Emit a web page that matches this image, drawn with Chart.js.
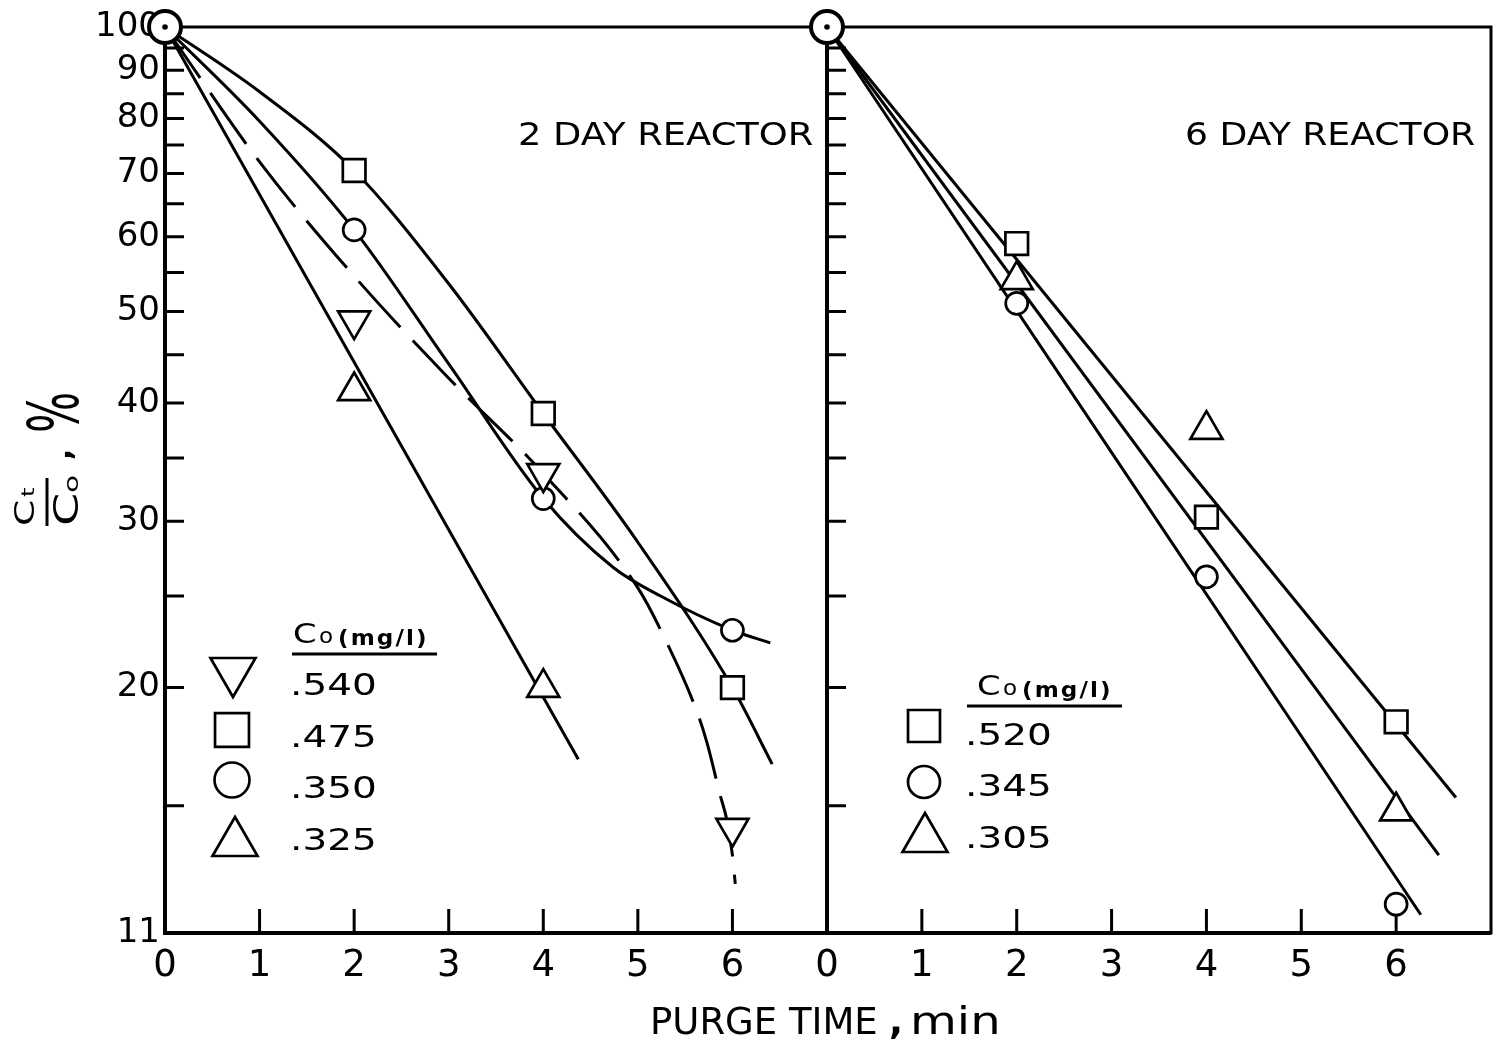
<!DOCTYPE html>
<html>
<head>
<meta charset="utf-8">
<script src="https://cdn.jsdelivr.net/npm/chart.js@4.4.0/dist/chart.umd.min.js"></script>
<style>
  html, body { margin: 0; padding: 0; background: #fff; overflow: hidden; }
  #wrap { position: relative; width: 1494px; height: 1046px; overflow: hidden; }
  #wrap canvas { position: absolute; left: 0; top: 0; }
</style>
</head>
<body>
<div id="wrap">
  <canvas id="left" width="1494" height="1046"></canvas>
  <canvas id="right" width="1560" height="1046"></canvas>
</div>
<script>
const FONT = '"DejaVu Sans"';

// axes
const yMin = 11, yMax = 100;
const yTickVals = [11, 15, 20, 25, 30, 35, 40, 45, 50, 55, 60, 65, 70, 75, 80, 85, 90, 95, 100];
const yTickLabels = [11, 20, 30, 40, 50, 60, 70, 80, 90, 100];
const xTickVals = [0, 1, 2, 3, 4, 5, 6, 7];

// purge times of the samples (min); every run starts at 100 % at t = 0
const sampleTimes = [2, 4, 6];

// 2 day reactor, Ct/Co in %
const day2Co = [".540", ".475", ".350", ".325"];
const day2_540 = [48.9, 33.7, 14.2];
const day2_475 = [70.5, 39, 20];
const day2_350 = [61, 31.7, 23];
const day2_325 = [41.2, 20];

// hand fitted curves of the 2 day reactor
const fit2_540_t = [0, 1, 2, 3, 4, 5, 5.27, 5.63, 5.73, 5.87, 5.94, 6.0, 6.03];
const fit2_540 = [100, 72, 54.5, 42.5, 33.7, 25.5, 22.7, 18.8, 17.5, 15.4, 14.5, 13.3, 12.4];
const fit2_475_t = [0, 1, 2, 3, 4, 5, 6, 6.42];
const fit2_475 = [100, 85.4, 70.5, 53.5, 39, 28.5, 20, 16.6];
const fit2_350_t = [0, 1, 2, 3, 4, 4.74, 5.24, 6, 6.4];
const fit2_350 = [100, 79.5, 61, 44, 31.7, 26.8, 25, 23, 22.3];
const fit2_325_t = [0, 4.37];
const fit2_325 = [100, 16.8];

// 6 day reactor, Ct/Co in %
const day6Co = [".520", ".345", ".305"];
const day6_520 = [59, 30.3, 18.4];
const day6_345 = [51, 26.2, 11.8];
const day6_305 = [54, 37.5, 14.8];

// straight fits of the 6 day reactor
const fit6_520_t = [0, 6.63];
const fit6_520 = [100, 15.3];
const fit6_345_t = [0, 6.26];
const fit6_345 = [100, 11.5];
const fit6_305_t = [0, 6.45];
const fit6_305 = [100, 13.3];

const pts = (xs, ys) => ys.map((v, i) => ({ x: xs[i], y: v }));

function markerSet(ys, style, radius, rotation) {
  return {
    data: pts(sampleTimes, ys), showLine: false, order: 0, clip: false,
    pointStyle: style, pointRadius: radius, pointRotation: rotation || 0,
    pointBorderWidth: 2.7, pointBorderColor: '#000', pointBackgroundColor: '#fff'
  };
}
function fitSet(xs, ys, dash) {
  return {
    data: pts(xs, ys), showLine: true, order: 1, clip: false, pointRadius: 0,
    borderColor: '#000', borderWidth: 3, borderDash: dash || [],
    cubicInterpolationMode: 'monotone', fill: false
  };
}
function originSets() {
  return [
    { data: [{ x: 0, y: 100 }], order: -1, clip: false, pointStyle: 'circle', pointRadius: 2.8,
      pointBorderWidth: 0, pointBackgroundColor: '#000' },
    { data: [{ x: 0, y: 100 }], order: 0, clip: false, pointStyle: 'circle', pointRadius: 16,
      pointBorderWidth: 4, pointBorderColor: '#000', pointBackgroundColor: '#fff' }
  ];
}

function options(showY, padding, yWidth) {
  return {
    responsive: false, animation: false, devicePixelRatio: 1, events: [],
    layout: { padding: padding },
    plugins: { legend: { display: false }, tooltip: { enabled: false } },
    scales: {
      x: {
        type: 'linear', min: 0, max: 7,
        afterBuildTicks: s => { s.ticks = xTickVals.map(v => ({ value: v })); },
        afterFit: s => { s.height = 113; },
        grid: { display: false, drawTicks: false }, border: { display: false },
        ticks: { autoSkip: false, maxRotation: 0, padding: 11, color: '#000',
          font: { family: FONT, size: 37 }, callback: v => (v === 7 ? '' : String(v)) }
      },
      y: {
        type: 'logarithmic', min: yMin, max: yMax, display: showY,
        afterBuildTicks: s => { s.ticks = yTickVals.map(v => ({ value: v })); },
        afterFit: s => { s.width = yWidth; },
        grid: { display: false, drawTicks: false }, border: { display: false },
        ticks: { autoSkip: false, padding: 5, color: '#000',
          font: { family: FONT, size: 34 }, callback: v => (yTickLabels.includes(v) ? String(v) : '') }
      }
    }
  };
}

// frame and inward tick marks
function drawFrame(chart) {
  const { ctx, chartArea: a, scales: { x, y } } = chart;
  ctx.save();
  ctx.strokeStyle = '#000';
  ctx.lineWidth = 3;
  ctx.strokeRect(a.left, a.top, a.right - a.left, a.bottom - a.top);
  ctx.lineWidth = 4;
  ctx.beginPath();
  ctx.moveTo(a.left, a.top);
  ctx.lineTo(a.left, a.bottom);
  ctx.lineTo(a.right, a.bottom);
  ctx.stroke();
  ctx.lineWidth = 3;
  ctx.beginPath();
  yTickVals.forEach(v => {
    if (v <= yMin || v >= yMax) return;
    const py = y.getPixelForValue(v);
    ctx.moveTo(a.left, py);
    ctx.lineTo(a.left + 19, py);
  });
  xTickVals.forEach(v => {
    if (v === 0 || v === 7) return;
    const px = x.getPixelForValue(v);
    ctx.moveTo(px, a.bottom);
    ctx.lineTo(px, a.bottom - 24);
  });
  ctx.stroke();
  ctx.restore();
}

function text(ctx, s, x, y, size, sx, weight) {
  ctx.save();
  ctx.translate(x, y);
  ctx.scale(sx || 1, 1);
  ctx.font = (weight || 'normal') + ' ' + size + 'px ' + FONT;
  ctx.fillStyle = '#000';
  ctx.textAlign = 'left';
  ctx.textBaseline = 'alphabetic';
  ctx.fillText(s, 0, 0);
  ctx.restore();
}

function legendMarker(ctx, style, radius, rotation, x, y) {
  ctx.save();
  ctx.fillStyle = '#fff';
  ctx.strokeStyle = '#000';
  ctx.lineWidth = 2.7;
  Chart.helpers.drawPoint(ctx, { pointStyle: style, radius: radius, rotation: rotation, borderWidth: 2.7 }, x, y);
  ctx.restore();
}

function legendHeader(ctx, x, base, lineFrom, lineTo) {
  text(ctx, 'C', x, base, 27, 1.25);
  text(ctx, 'o', x + 26, base, 21, 1.1);
  ctx.save();
  ctx.letterSpacing = '2px';
  text(ctx, '(mg/l)', x + 45, base + 2, 22, 1.05, 'bold');
  ctx.restore();
  ctx.save();
  ctx.strokeStyle = '#000';
  ctx.lineWidth = 3;
  ctx.beginPath();
  ctx.moveTo(lineFrom, base + 11);
  ctx.lineTo(lineTo, base + 11);
  ctx.stroke();
  ctx.restore();
}

function drawYTitle(ctx) {
  ctx.save();
  ctx.translate(47, 526);
  ctx.rotate(-Math.PI / 2);
  ctx.fillStyle = '#000';
  ctx.strokeStyle = '#000';
  ctx.textBaseline = 'alphabetic';
  ctx.save();
  ctx.scale(1.45, 1);
  ctx.font = '26px ' + FONT;
  ctx.fillText('C', 0, -13);
  ctx.font = '17px ' + FONT;
  ctx.fillText('t', 20, -13);
  ctx.font = '33px ' + FONT;
  ctx.fillText('C', 0, 31);
  ctx.font = '20px ' + FONT;
  ctx.fillText('o', 23, 31);
  ctx.restore();
  ctx.lineWidth = 3;
  ctx.beginPath();
  ctx.moveTo(0, 0);
  ctx.lineTo(48, 0);
  ctx.stroke();
  ctx.font = 'bold 30px ' + FONT;
  ctx.fillText(',', 66, 24);
  ctx.save();
  ctx.translate(93, 31);
  ctx.scale(0.62, 1);
  ctx.font = '70px ' + FONT;
  ctx.fillText('%', 0, 0);
  ctx.restore();
  ctx.restore();
}

const leftDecor = {
  id: 'leftDecor',
  beforeDatasetsDraw(chart) { drawFrame(chart); },
  afterDatasetsDraw(chart) {
    const ctx = chart.ctx;
    text(ctx, '2 DAY REACTOR', 518, 145, 32, 1.15);
    legendHeader(ctx, 293, 643, 292, 437);
    legendMarker(ctx, 'triangle', 26, 180, 233, 671);
    legendMarker(ctx, 'rect', 24, 0, 232, 730);
    legendMarker(ctx, 'circle', 17.5, 0, 232, 780);
    legendMarker(ctx, 'triangle', 26, 0, 235, 843);
    [695, 747, 798, 850].forEach((b, i) => text(ctx, day2Co[i], 290, b, 30, 1.3));
    drawYTitle(ctx);
    text(ctx, 'PURGE TIME', 650, 1034, 37, 1.0);
    text(ctx, ',', 889, 1034, 37, 1.0, 'bold');
    text(ctx, 'min', 910, 1034, 37, 1.3);
  }
};

const rightDecor = {
  id: 'rightDecor',
  beforeDatasetsDraw(chart) { drawFrame(chart); },
  afterDatasetsDraw(chart) {
    const ctx = chart.ctx;
    text(ctx, '6 DAY REACTOR', 1185, 145, 32, 1.13);
    legendHeader(ctx, 977, 695, 967, 1122);
    legendMarker(ctx, 'rect', 22.6, 0, 924, 726);
    legendMarker(ctx, 'circle', 16, 0, 924, 782);
    legendMarker(ctx, 'triangle', 26, 0, 925, 839);
    [745, 796, 848].forEach((b, i) => text(ctx, day6Co[i], 965, b, 30, 1.3));
  }
};

new Chart(document.getElementById('left'), {
  type: 'scatter',
  data: {
    datasets: [
      ...originSets(),
      markerSet(day2_540, 'triangle', 18.5, 180),
      markerSet(day2_475, 'rect', 16),
      markerSet(day2_350, 'circle', 11),
      markerSet(day2_325, 'triangle', 18.5),
      fitSet(fit2_540_t, fit2_540, [62, 18]),
      fitSet(fit2_475_t, fit2_475),
      fitSet(fit2_350_t, fit2_350),
      fitSet(fit2_325_t, fit2_325)
    ]
  },
  options: options(true, { left: 0, top: 27, right: 1494 - 827, bottom: 0 }, 165),
  plugins: [leftDecor]
});

// right canvas is wider than the page so the panel can run to x = 1491
new Chart(document.getElementById('right'), {
  type: 'scatter',
  data: {
    datasets: [
      ...originSets(),
      markerSet(day6_520, 'rect', 16),
      markerSet(day6_345, 'circle', 11),
      markerSet(day6_305, 'triangle', 18.5),
      fitSet(fit6_520_t, fit6_520),
      fitSet(fit6_345_t, fit6_345),
      fitSet(fit6_305_t, fit6_305)
    ]
  },
  options: options(false, { left: 827, top: 27, right: 1560 - 1491, bottom: 0 }, 0),
  plugins: [rightDecor]
});
</script>
</body>
</html>
